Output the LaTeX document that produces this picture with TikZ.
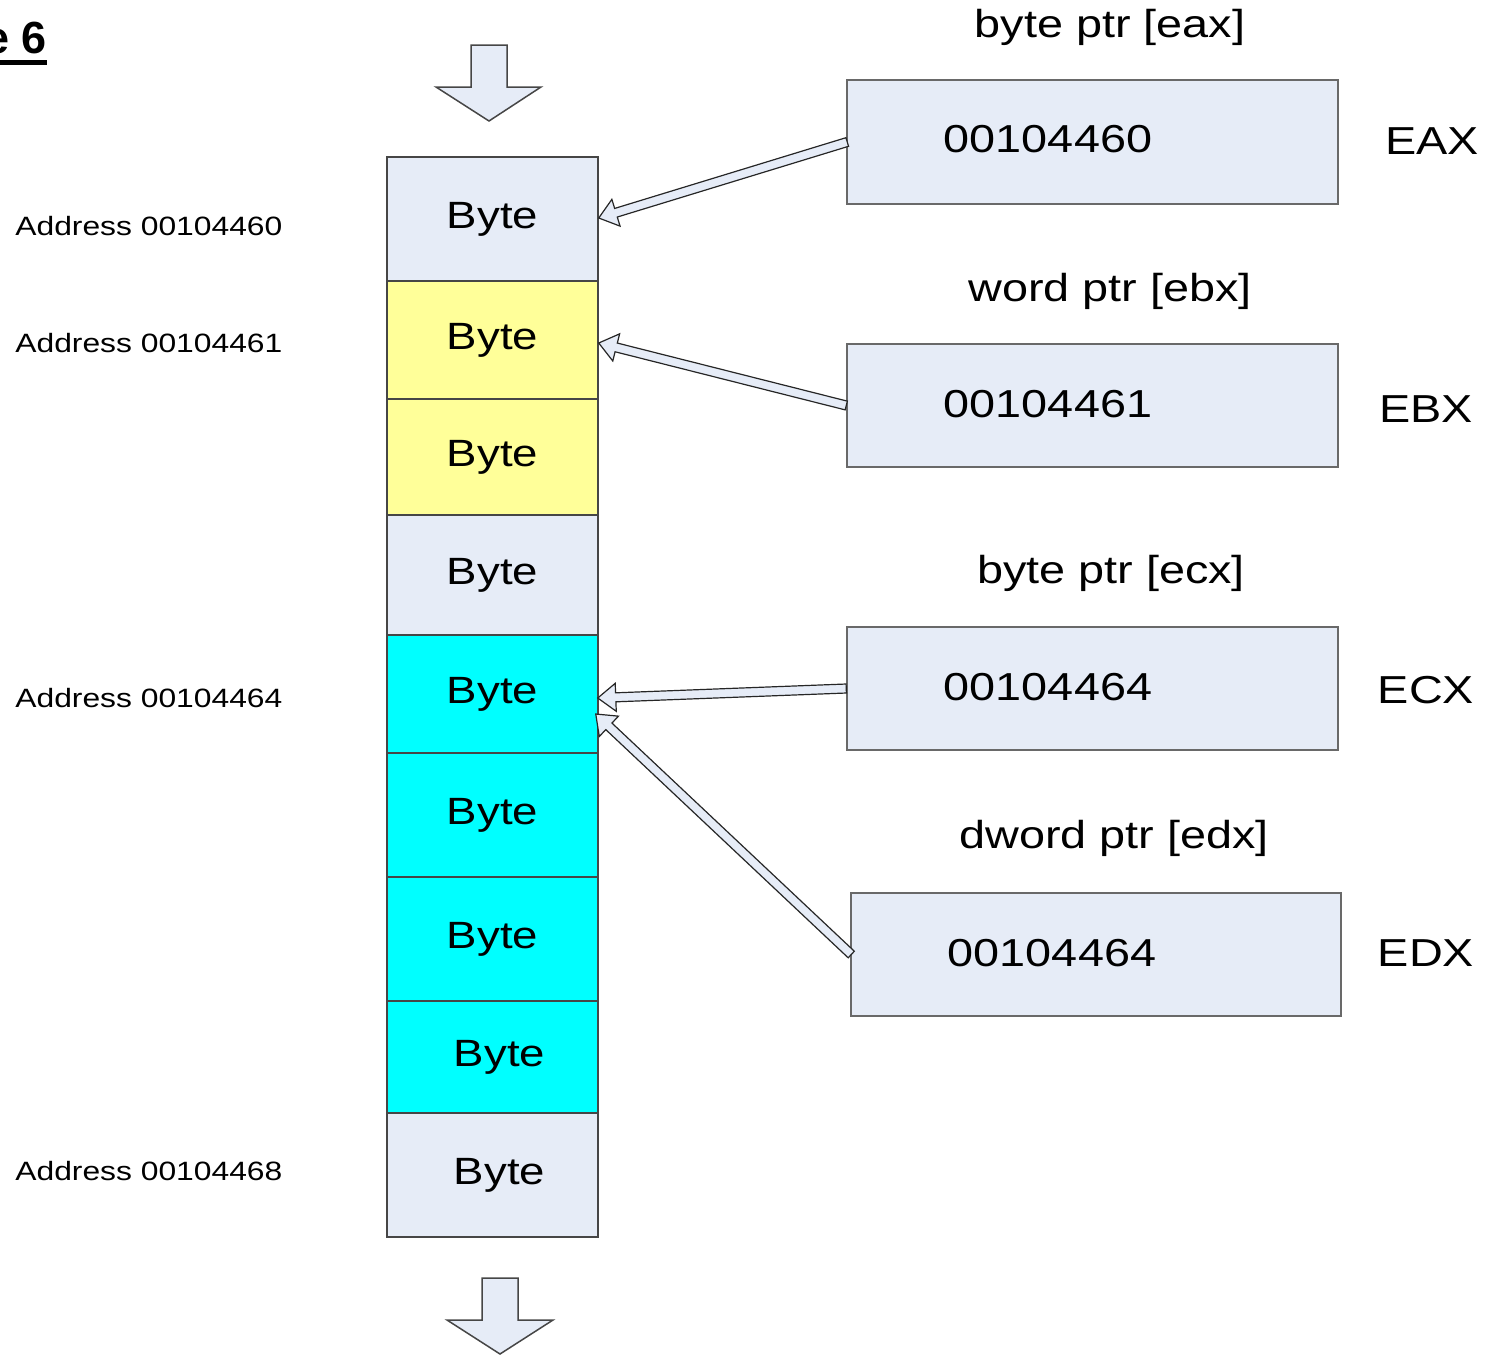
\documentclass[tikz,border=0pt]{standalone}
\usepackage{fontspec}
\setmainfont[FakeStretch=1.2]{Liberation Sans}
\newfontfamily\headfont{Liberation Sans}
\usetikzlibrary{calc}

\definecolor{paleblue}{RGB}{230,236,247}
\definecolor{memyellow}{RGB}{255,255,153}
\definecolor{memcyan}{RGB}{0,255,255}
\definecolor{edgegray}{RGB}{70,70,70}
\definecolor{boxgray}{RGB}{105,105,105}

% Hollow block arrow from a tail point (#1) to a tip point (#2)
\newcommand\regarrow[2]{%
  \coordinate (neck) at ($(#2)!9pt!(#1)$);
  \draw[ptrarrow] (#2)
    -- ($(neck)!7pt!90:(#1)$)
    -- ($(neck)!2.25pt!90:(#1)$)
    -- ($(#1)!2.25pt!-90:(#2)$)
    -- ($(#1)!2.25pt!90:(#2)$)
    -- ($(neck)!2.25pt!-90:(#1)$)
    -- ($(neck)!7pt!-90:(#1)$)
    -- cycle;}

\begin{document}
\begin{tikzpicture}[x=0.5pt,y=-0.5pt,
  memcell/.style={draw=edgegray, line width=0.75pt, minimum width=105.5pt,
    inner sep=0pt, font=\fontsize{19}{22}\selectfont},
  regbox/.style={draw=boxgray, fill=paleblue, line width=0.75pt,
    minimum width=245.5pt, inner sep=0pt},
  bigtext/.style={inner sep=0pt, font=\fontsize{19.5}{22}\selectfont},
  addrtext/.style={inner sep=0pt, anchor=base west, font=\fontsize{13.25}{15}\selectfont},
  ptrarrow/.style={draw=black!85, fill=paleblue, line width=0.6pt, line join=miter},
  flowarrow/.style={draw=edgegray, fill=paleblue, line width=0.75pt}]

\useasboundingbox (0,0) rectangle (1493,1355);

% heading, running off the left edge of the page
\node[inner sep=0pt, anchor=base east, font=\fontsize{22.5}{26}\headfont\bfseries]
  (title) at (47,53) {e 6};
\draw[line width=2.5pt] ($(title.base west)+(0,9)$) -- ($(title.base east)+(0,9)$);

% memory column
\node[memcell, fill=paleblue,  minimum height=62pt] (r1) at (492.5,219)  {Byte};
\node[memcell, fill=memyellow, minimum height=59pt] (r2) at (492.5,340)  {Byte};
\node[memcell, fill=memyellow, minimum height=58pt] (r3) at (492.5,457)  {Byte};
\node[memcell, fill=paleblue,  minimum height=60pt] (r4) at (492.5,575)  {Byte};
\node[memcell, fill=memcyan,   minimum height=59pt] (r5) at (492.5,694)  {Byte};
\node[memcell, fill=memcyan,   minimum height=62pt] (r6) at (492.5,815)  {Byte};
\node[memcell, fill=memcyan,   minimum height=62pt] (r7) at (492.5,939)  {Byte};
\node[memcell, fill=memcyan,   minimum height=56pt] (r8) at (492.5,1057) {\hspace*{7pt}Byte};
\node[memcell, fill=paleblue,  minimum height=62pt] (r9) at (492.5,1175) {\hspace*{7pt}Byte};

% addresses
\node[addrtext] (a0) at (15,235)  {Address 00104460};
\node[addrtext] (a1) at (15,352)  {Address 00104461};
\node[addrtext] (a4) at (15,707)  {Address 00104464};
\node[addrtext] (a8) at (15,1180) {Address 00104468};

% direction of increasing addresses
\draw[flowarrow] (471,45) -- (507,45) -- (507,87) -- (541,87) -- (489,121)
  -- (436,87) -- (471,87) -- cycle;
\draw[flowarrow] (482,1278) -- (518,1278) -- (518,1320) -- (553,1320) -- (500,1354)
  -- (447,1320) -- (482,1320) -- cycle;

% registers
\node[bigtext, anchor=base] (peax) at (1110,37)  {byte ptr [eax]};
\node[bigtext, anchor=base] (pebx) at (1110,301) {word ptr [ebx]};
\node[bigtext, anchor=base] (pecx) at (1111,583) {byte ptr [ecx]};
\node[bigtext, anchor=base] (pedx) at (1114,848) {dword ptr [edx]};

\node[regbox, minimum height=62pt]   (eaxbox) at (1092.5,142)   {};
\node[regbox, minimum height=61.5pt] (ebxbox) at (1092.5,405.5) {};
\node[regbox, minimum height=61.5pt] (ecxbox) at (1092.5,688.5) {};
\node[regbox, minimum height=61.5pt, minimum width=245pt] (edxbox) at (1096,954.5) {};

\node[bigtext] (veax) at (1048,139) {00104460};
\node[bigtext] (vebx) at (1048,404) {00104461};
\node[bigtext] (vecx) at (1048,687) {00104464};
\node[bigtext] (vedx) at (1052,953) {00104464};

\node[bigtext] (neax) at (1432,141) {EAX};
\node[bigtext] (nebx) at (1426,409) {EBX};
\node[bigtext] (necx) at (1426,690) {ECX};
\node[bigtext] (nedx) at (1426,953) {EDX};

% pointers into memory
\coordinate (t1) at ($(r1.east)+(0,-1)$);
\coordinate (t2) at ($(r2.east)+(0,3)$);
\coordinate (t3) at ($(r5.east)+(-1,4)$);
\coordinate (t4) at ($(r5.east)+(-3,20)$);
\coordinate (s1) at ($(eaxbox.west)+(1,0)$);
\coordinate (s2) at (ebxbox.west);
\coordinate (s3) at (ecxbox.west);
\coordinate (s4) at ($(edxbox.west)+(1,0)$);
\regarrow{s1}{t1}
\regarrow{s2}{t2}
\regarrow{s3}{t3}
\regarrow{s4}{t4}

\end{tikzpicture}
\end{document}
